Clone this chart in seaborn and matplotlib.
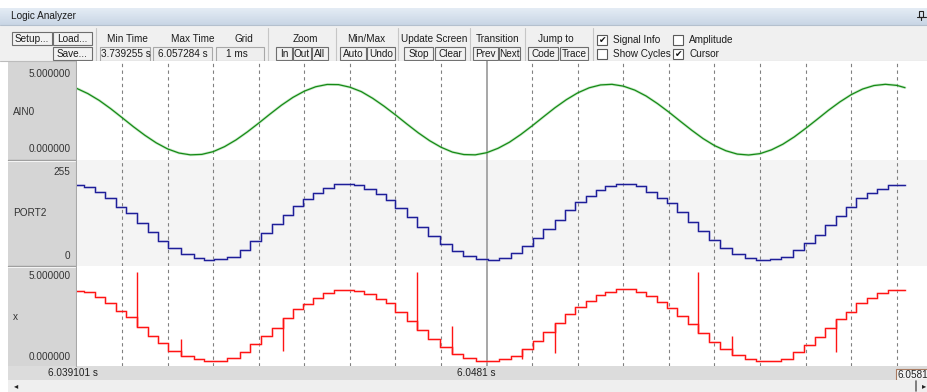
import numpy as np
import pandas as pd
import matplotlib
matplotlib.use("Agg")
import matplotlib.pyplot as plt
import seaborn as sns
from matplotlib.patches import Rectangle
from matplotlib.colors import LinearSegmentedColormap

# times in ms, relative to the cursor at 6.0481 s
ain0_t = [-9.0, -8.75, -8.5, -8.25, -8.0, -7.75, -7.5, -7.25, -7.0, -6.75,
          -6.5, -6.25, -6.0, -5.75, -5.5, -5.25, -5.0, -4.75, -4.5, -4.25,
          -4.0, -3.75, -3.5, -3.25, -3.0, -2.75, -2.5, -2.25, -2.0, -1.75,
          -1.5, -1.25, -1.0, -0.75, -0.5, -0.25, 0.0, 0.25, 0.5, 0.75,
          1.0, 1.25, 1.5, 1.75, 2.0, 2.25, 2.5, 2.75, 3.0, 3.25,
          3.5, 3.75, 4.0, 4.25, 4.5, 4.75, 5.0, 5.25, 5.5, 5.75,
          6.0, 6.25, 6.5, 6.75, 7.0, 7.25, 7.5, 7.75, 8.0, 8.25,
          8.5, 8.75, 9.0, 9.18]
ain0_v = [4.39, 4.04, 3.59, 3.05, 2.46, 1.86, 1.30, 0.80, 0.40, 0.13,
          0.01, 0.04, 0.22, 0.55, 0.99, 1.52, 2.10, 2.70, 3.28, 3.79,
          4.20, 4.49, 4.64, 4.63, 4.46, 4.17, 3.73, 3.21, 2.64, 2.04,
          1.46, 0.94, 0.51, 0.19, 0.03, 0.01, 0.15, 0.44, 0.84, 1.35,
          1.92, 2.52, 3.11, 3.64, 4.09, 4.42, 4.61, 4.65, 4.53, 4.27,
          3.88, 3.38, 2.82, 2.22, 1.63, 1.08, 0.62, 0.28, 0.06, 0.00,
          0.09, 0.34, 0.71, 1.19, 1.75, 2.34, 2.94, 3.49, 3.97, 4.34,
          4.57, 4.65, 4.58, 4.43]

# step start times (last entry = end of recording, 6.057284 s)
step_t = [-9.10, -8.83, -8.60, -8.37, -8.14, -7.92, -7.68, -7.44, -7.21, -6.99,
          -6.71, -6.43, -6.21, -5.98, -5.69, -5.41, -5.19, -4.96, -4.70, -4.46,
          -4.24, -4.02, -3.80, -3.58, -3.35, -2.91, -2.68, -2.43, -2.21, -2.00,
          -1.75, -1.52, -1.29, -1.02, -0.77, -0.51, -0.24, 0.02, 0.27, 0.53,
          0.78, 1.02, 1.24, 1.49, 1.71, 1.93, 2.17, 2.39, 2.59, 2.83,
          3.27, 3.50, 3.73, 3.96, 4.18, 4.41, 4.64, 4.89, 5.13, 5.39,
          5.66, 5.91, 6.21, 6.45, 6.73, 6.96, 7.20, 7.42, 7.67, 7.89,
          8.11, 8.35, 8.57, 8.80, 9.18]
port2_v = [228, 221, 206, 187, 162, 142, 113, 86, 58, 35,
           18, 5, 0, 2, 10, 30, 58, 83, 108, 137,
           164, 184, 202, 220, 230, 227, 215, 200, 182, 157,
           132, 101, 73, 49, 27, 12, 2, 0, 5, 20,
           43, 66, 93, 121, 152, 175, 194, 212, 225, 230,
           225, 207, 189, 172, 145, 116, 89, 61, 37, 17,
           5, 0, 2, 10, 30, 51, 76, 106, 134, 162,
           187, 202, 216, 228]
x_v = [4.39, 4.29, 3.98, 3.60, 3.13, 2.73, 2.14, 1.56, 1.10, 0.65,
       0.31, 0.10, 0.00, 0.00, 0.17, 0.58, 1.06, 1.56, 2.08, 2.71,
       3.23, 3.56, 3.96, 4.23, 4.44, 4.39, 4.19, 3.85, 3.60, 3.08,
       2.52, 1.94, 1.38, 0.90, 0.44, 0.17, 0.00, 0.00, 0.10, 0.33,
       0.77, 1.27, 1.83, 2.40, 2.94, 3.40, 3.75, 4.13, 4.33, 4.48,
       4.29, 4.06, 3.67, 3.33, 2.81, 2.31, 1.77, 1.21, 0.73, 0.35,
       0.10, 0.00, 0.00, 0.10, 0.58, 1.00, 1.52, 2.04, 2.60, 3.08,
       3.60, 3.92, 4.23, 4.44]

# glitches on x: time and extreme value
spike_t = [-7.68, -6.71, -4.46, -1.52, -0.77, 0.78, 1.49, 4.64, 5.39, 7.67]
spike_v = [5.58, 1.40, 0.65, 5.58, 2.19, 0.10, 0.52, 5.58, 1.56, 0.58]

grid_ms = [-8, -7, -6, -5, -4, -3, -2, -1, 1, 2, 3, 4, 5, 6, 7, 8, 9]

W, H = 927, 392
sns.set_style("white")
plt.rcParams["font.family"] = ["Liberation Sans", "DejaVu Sans"]

fig = plt.figure(figsize=(W / 100, H / 100), dpi=100, facecolor="white")


def px_box(x0, y0, x1, y1):
    return [x0 / W, 1 - y1 / H, (x1 - x0) / W, (y1 - y0) / H]


ui = fig.add_axes([0, 0, 1, 1])
ui.set_axis_off()

# title bar
grad = np.linspace(0, 1, 20).reshape(-1, 1)
cm = LinearSegmentedColormap.from_list("tb", ["#e4ecf5", "#c9d6e5"])
ui.imshow(grad, extent=(0, W, 25, 8), aspect="auto", cmap=cm)
ui.add_patch(Rectangle((0, 25), W, 36, fc="#f0f0f0", ec="none"))
ui.plot([0, W], [25, 25], color="#b4c0ce", lw=0.8)


def txt(x, y, s, ha="center", size=7.2, color="#1c1c1c", **kw):
    ui.text(x, y, s, ha=ha, va="center", fontsize=size, color=color, **kw)


def button(x0, y0, x1, y1, s):
    ui.add_patch(Rectangle((x0, y0), x1 - x0, y1 - y0, fc="#f2f2f2", ec="#6e6e6e", lw=0.8))
    txt((x0 + x1) / 2, (y0 + y1) / 2 + 0.3, s)


def field(x0, y0, x1, y1, s, cx):
    ui.add_patch(Rectangle((x0, y0), x1 - x0, y1 - y0, fc="#eeeeee", ec="#a8a8a8", lw=0.8))
    txt(cx, (y0 + y1) / 2 + 0.3, s)


def checkbox(x, y, s, checked):
    ui.add_patch(Rectangle((x, y), 10, 10, fc="white", ec="#5a5a5a", lw=0.8))
    if checked:
        ui.text(x + 5, y + 5.3, "\u2714", ha="center", va="center", fontsize=6.5,
                color="#111111", family=["DejaVu Sans"])
    txt(x + 16, y + 5, s, ha="left")


txt(11, 16, "Logic Analyzer", ha="left")
# pin icon
ui.add_patch(Rectangle((919.5, 11), 4, 6, fc="none", ec="#222222", lw=0.8))
ui.plot([917.5, 926], [17, 17], color="#222222", lw=0.8)
ui.plot([921.5, 921.5], [17, 20], color="#222222", lw=0.8)

button(11.7, 31.7, 51.7, 45, "Setup...")
button(53.3, 31.7, 91.7, 45, "Load...")
button(53.3, 46.7, 91.7, 60, "Save...")

for sx in [96, 268.3, 336, 398.3, 470, 525, 593.3]:
    ui.plot([sx, sx], [28, 61], color="#c6c6c6", lw=0.8)

txt(127.5, 39, "Min Time")
field(100, 46.7, 150.5, 60.5, "3.739255 s", 125.5)
txt(192.8, 39, "Max Time")
field(152.7, 46.7, 211.7, 60.5, "6.057284 s", 182.5)
txt(244.2, 39, "Grid")
field(216, 46.7, 264, 60.5, "1 ms", 236.7)

txt(305.5, 39, "Zoom")
button(276, 47.3, 291.7, 60, "In")
button(293.3, 47.3, 310.7, 60, "Out")
button(312.3, 47.3, 327.7, 60, "All")

txt(365.8, 39, "Min/Max")
button(340, 47.3, 366.5, 60, "Auto")
button(367, 47.3, 395, 60, "Undo")

txt(434.2, 39, "Update Screen")
button(404, 47.3, 433.3, 60, "Stop")
button(435, 47.3, 465, 60, "Clear")

txt(497.5, 39, "Transition")
button(473.3, 47.3, 498.3, 60, "Prev")
button(499, 47.3, 520, 60, "Next")

txt(555.8, 39, "Jump to")
button(528.3, 47.3, 558.3, 60, "Code")
button(560, 47.3, 588.3, 60, "Trace")

checkbox(597.3, 35, "Signal Info", True)
checkbox(597.3, 49.3, "Show Cycles", False)
checkbox(673.3, 35, "Amplitude", False)
checkbox(673.3, 49.3, "Cursor", True)

ui.plot([0, W], [61, 61], color="#bcbcbc", lw=0.8)

# signal name column
ui.add_patch(Rectangle((8, 61), 68, 305, fc="#d5d5d5", ec="none"))
for yy in [159.5, 265.5]:
    ui.plot([8, 76], [yy, yy], color="#9c9c9c", lw=1.0)
    ui.plot([8, 76], [yy + 1, yy + 1], color="#f4f4f4", lw=0.8)
ui.plot([76, 76], [61, 366], color="#a8a8a8", lw=0.8)

txt(70.7, 74, "5.000000", ha="right", color="#333333")
txt(13.3, 112.3, "AIN0", ha="left", color="#333333")
txt(70.7, 149.3, "0.000000", ha="right", color="#333333")
txt(70.7, 171.7, "255", ha="right", color="#333333")
txt(13.3, 213.3, "PORT2", ha="left", color="#333333")
txt(70.7, 255.7, "0", ha="right", color="#333333")
txt(70.7, 276, "5.000000", ha="right", color="#333333")
txt(13.3, 317.3, "x", ha="left", color="#333333")
txt(70.7, 356.7, "0.000000", ha="right", color="#333333")

# time bar and scroll bar
ui.add_patch(Rectangle((8, 366), W - 8, 14, fc="#dcdcdc", ec="none"))
txt(48.3, 373.3, "6.039101 s", ha="left", color="#222222")
txt(476.7, 373.3, "6.0481 s", color="#222222")
ui.add_patch(Rectangle((895.7, 369.3), 33, 10.7, fc="#f2f2f2", ec="#a87a60", lw=0.8))
txt(897.5, 374.8, "6.0581", ha="left", color="#222222")
ui.add_patch(Rectangle((8, 380), W - 8, 12, fc="#efefef", ec="none"))
ui.text(16, 386, "\u25c2", ha="center", va="center", fontsize=6, color="#222222",
        family=["DejaVu Sans"])
ui.text(924, 386, "\u25b8", ha="center", va="center", fontsize=6, color="#222222",
        family=["DejaVu Sans"])
ui.plot([916, 916], [381, 391], color="#6a6a6a", lw=1.2)

ui.set_xlim(0, W)
ui.set_ylim(H, 0)

# signal panels
t_view = (-8.999, 9.663)
panels = [
    ("ain0", (76.5, 61, W, 159.5), (-0.296, 6.184), "white"),
    ("port2", (76.5, 159.5, W, 265.5), (-16.7, 305.1), "#f4f4f4"),
    ("x", (76.5, 265.5, W, 366), (-0.3125, 5.969), "white"),
]
axes = {}
for name, box, ylim, bg in panels:
    ax = fig.add_axes(px_box(*box), facecolor=bg)
    for g in grid_ms:
        ax.axvline(g, color="#808080", lw=0.8, ls=(0, (3, 3)), zorder=0.5)
    ax.axvline(0, color="#a0a0a0", lw=1.3, zorder=0.6)
    axes[name] = (ax, ylim)


def trace(ax, t, v, color, halo, steps):
    df = pd.DataFrame({"t": t, "v": v})
    kw = {"drawstyle": "steps-post"} if steps else {}
    sns.lineplot(data=df, x="t", y="v", ax=ax, color=halo, lw=2.0, alpha=0.4,
                 estimator=None, sort=False, legend=False, **kw)
    sns.lineplot(data=df, x="t", y="v", ax=ax, color=color, lw=0.9,
                 estimator=None, sort=False, legend=False, **kw)


trace(axes["ain0"][0], ain0_t, ain0_v, "#168a16", "#7fcc7f", False)
trace(axes["port2"][0], step_t, port2_v + [port2_v[-1]], "#1e1e98", "#8a8ad0", True)
trace(axes["x"][0], step_t, x_v + [x_v[-1]], "#ff1414", "#ff9090", True)

step_at = dict(zip(step_t, x_v))
axes["x"][0].vlines(spike_t, spike_v, [step_at[t] for t in spike_t],
                    color="#ff1414", lw=1.0)

for name, (ax, ylim) in axes.items():
    ax.set_xlim(*t_view)
    ax.set_ylim(*ylim)
    ax.set_xticks([])
    ax.set_yticks([])
    ax.set_xlabel("")
    ax.set_ylabel("")
    for sp in ax.spines.values():
        sp.set_visible(False)

fig.savefig("out.png", dpi=100)
